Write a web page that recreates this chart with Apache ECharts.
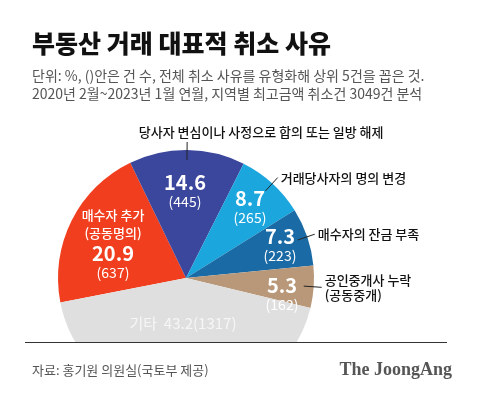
<!DOCTYPE html>
<html>
<head>
<meta charset="utf-8">
<script src="https://cdn.jsdelivr.net/npm/echarts@6/dist/echarts.min.js"></script>
<style>
  html, body { margin: 0; padding: 0; background: #fff; }
  #chart { width: 480px; height: 401px; }
</style>
</head>
<body>
<div id="chart"></div>
<script>
// 부동산 거래 취소 사유 (단위: %, 건수)
const categories = [
  '매수자 추가\n(공동명의)',
  '당사자 변심이나 사정으로 합의 또는 일방 해제',
  '거래당사자의 명의 변경',
  '매수자의 잔금 부족',
  '공인중개사 누락\n(공동중개)',
  '기타'
]
const shares = [20.9, 14.6, 8.7, 7.3, 5.3, 43.2]
const counts = [637, 445, 265, 223, 162, 1317]

const colors = ['#f03e1e', '#3b479c', '#1ba6dd', '#1a6ba5', '#b9987a', '#dfdfdf']
// 조각 안쪽 라벨 중심 위치
const innerLabelPos = [[113, 244], [185, 191], [250, 207], [280, 245], [282, 294], [183, 323]]

const FONT = '"Noto Sans CJK KR", "Noto Sans", sans-serif'
const CENTER = [186, 278]

const chart = echarts.init(document.getElementById('chart'))

const innerData = counts.map((c, i) => ({
  name: categories[i],
  value: c,
  itemStyle: { color: colors[i] }
}))

const outerData = counts.map((c, i) => {
  const item = { name: categories[i], value: c }
  if (i === 0 || i === 5) {
    item.label = { show: false }
    item.labelLine = { show: false }
  }
  return item
})

const innerFormatter = (p) => {
  const i = p.dataIndex
  if (i === 5) return '{g|기타  ' + shares[i] + '(' + counts[i] + ')}'
  let s = '{v|' + shares[i] + '}\n{c|(' + counts[i] + ')}'
  if (i === 0) s = '{n|매수자 추가}\n{n|(공동명의)}\n' + s
  return s
}

const option = {
  animation: false,
  backgroundColor: '#fff',
  title: {
    left: 32,
    top: 28,
    padding: 0,
    itemGap: 9,
    text: '부동산 거래 대표적 취소 사유',
    subtext: '단위: %, ()안은 건 수, 전체 취소 사유를 유형화해 상위 5건을 꼽은 것.\n2020년 2월~2023년 1월 연월, 지역별 최고금액 취소건 3049건 분석',
    textStyle: { fontFamily: FONT, fontSize: 25, fontWeight: 900, color: '#111', lineHeight: 30 },
    subtextStyle: { fontFamily: FONT, fontSize: 14, color: '#555', lineHeight: 18 }
  },
  series: [
    {
      type: 'pie',
      center: CENTER,
      radius: 128,
      startAngle: 191,
      silent: true,
      avoidLabelOverlap: false,
      data: innerData,
      itemStyle: { borderWidth: 0 },
      label: {
        show: true,
        position: 'inside',
        formatter: innerFormatter,
        rich: {
          n: { fontFamily: FONT, fontSize: 13, fontWeight: 500, color: '#fff', lineHeight: 18 },
          v: { fontFamily: FONT, fontSize: 20, fontWeight: 'bold', color: '#fff', lineHeight: 22 },
          c: { fontFamily: FONT, fontSize: 14, color: '#fff', lineHeight: 18 },
          g: { fontFamily: FONT, fontSize: 15, color: '#f6f6f6', lineHeight: 18 }
        }
      },
      labelLine: { show: false },
      labelLayout: (p) => ({
        x: innerLabelPos[p.dataIndex][0],
        y: innerLabelPos[p.dataIndex][1],
        align: 'center',
        verticalAlign: 'middle'
      })
    },
    {
      // 바깥 이름 라벨과 지시선
      type: 'pie',
      center: CENTER,
      radius: 118,
      startAngle: 191,
      silent: true,
      z: 3,
      avoidLabelOverlap: false,
      data: outerData,
      itemStyle: { color: 'rgba(0,0,0,0)' },
      label: {
        show: true,
        position: 'outside',
        formatter: '{b}',
        fontFamily: FONT,
        fontSize: 13,
        fontWeight: 500,
        lineHeight: 15,
        color: '#111',
        distanceToLabelLine: 3
      },
      labelLine: {
        show: true,
        length: 18,
        length2: 0,
        lineStyle: { color: '#222', width: 1 }
      },
      labelLayout: (p) => {
        const pts = p.labelLinePoints
        if (p.dataIndex !== 1 || !pts) return {}
        const end = pts[pts.length - 1]
        return {
          x: end[0] + 74,
          y: end[1] - 2,
          align: 'center',
          verticalAlign: 'bottom',
          labelLinePoints: pts
        }
      }
    }
  ],
  graphic: [
    {
      type: 'rect',
      z: 100,
      shape: { x: 0, y: 343, width: 480, height: 60 },
      style: { fill: '#fff' }
    },
    {
      type: 'line',
      z: 101,
      shape: { x1: 25, y1: 342.5, x2: 447, y2: 342.5 },
      style: { stroke: '#333', lineWidth: 1 }
    },
    {
      type: 'text',
      z: 101,
      left: 32,
      top: 364,
      style: { text: '자료: 홍기원 의원실(국토부 제공)', font: '13px ' + FONT, fill: '#555' }
    },
    {
      type: 'text',
      z: 101,
      right: 28,
      top: 361,
      style: { text: 'The JoongAng', font: 'bold 18px "Liberation Serif", serif', fill: '#555' }
    }
  ]
}

chart.setOption(option)

window.addEventListener('resize', () => chart.resize())
</script>
</body>
</html>
